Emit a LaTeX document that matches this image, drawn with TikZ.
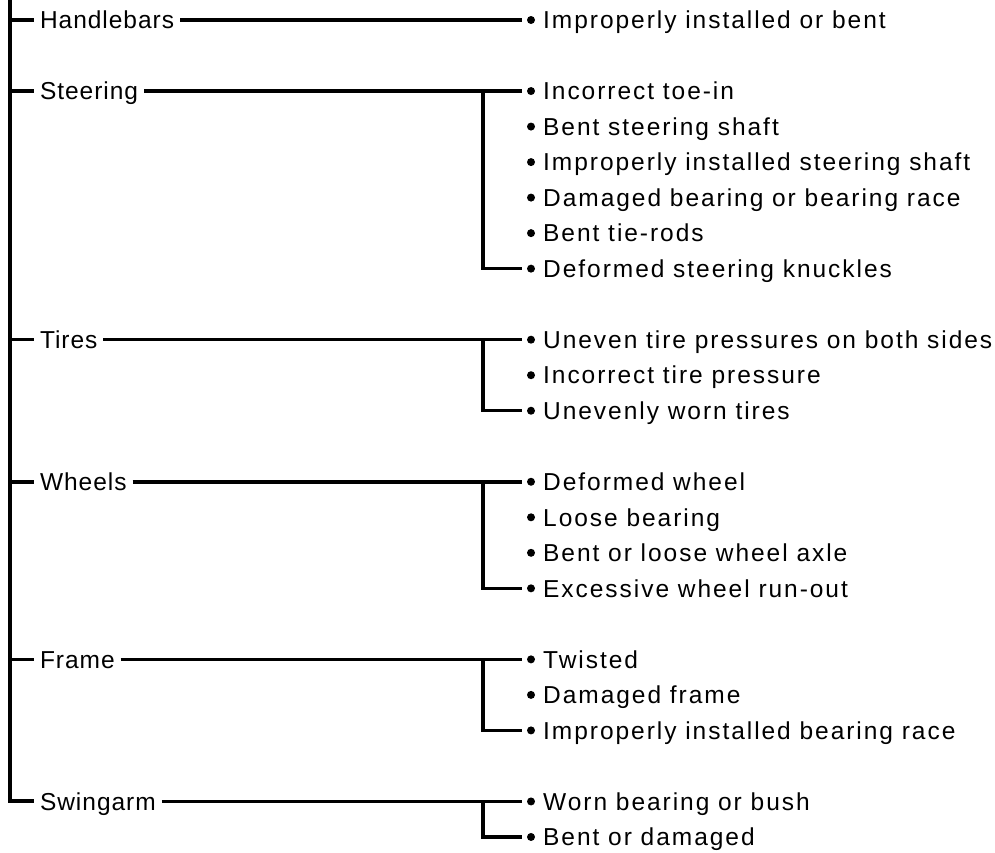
\documentclass[tikz,border=0pt]{standalone}
\usepackage{fontspec}
\setmainfont{Liberation Sans}
\newfontfamily\catfont{Liberation Sans}[LetterSpace=4]
\newfontfamily\itemfont{Liberation Sans}[LetterSpace=8]
\begin{document}
\begin{tikzpicture}[x=1pt,y=-1pt,
  conn/.style={line width=3.5pt},
  trunk/.style={line width=4pt},
  cat/.style={anchor=west, inner sep=0pt, outer xsep=6pt, text height=17.5pt, text depth=0pt, font=\catfont\fontsize{24.5}{28}\selectfont},
  dot/.style={circle, fill, inner sep=0pt, minimum size=8pt, outer sep=5pt},
  item/.style={anchor=west, inner sep=0pt, text height=17.5pt, text depth=0pt, font=\itemfont\fontsize{24.5}{28}\selectfont}]
\useasboundingbox (0,0) rectangle (995,852);
\coordinate (top) at (9.5,0);
\coordinate (bx) at (483,0);
% categories
\node[cat] (lH) at (34,20) {Handlebars};
\node[cat] (lS) at (34,91.04) {Steering};
\node[cat] (lT) at (34,339.68) {Tires};
\node[cat] (lW) at (34,481.76) {Wheels};
\node[cat] (lF) at (34,659.36) {Frame};
\node[cat] (lG) at (34,801.44) {Swingarm};
% items
\node[dot] (bH1) at (531,20) {}; \node[item] (tH1) at (543,20) {Improperly installed or bent};
\node[dot] (bS1) at (531,91.04) {}; \node[item] (tS1) at (543,91.04) {Incorrect toe-in};
\node[dot] (bS2) at (531,126.56) {}; \node[item] (tS2) at (543,126.56) {Bent steering shaft};
\node[dot] (bS3) at (531,162.08) {}; \node[item] (tS3) at (543,162.08) {Improperly installed steering shaft};
\node[dot] (bS4) at (531,197.6) {}; \node[item] (tS4) at (543,197.6) {Damaged bearing or bearing race};
\node[dot] (bS5) at (531,233.12) {}; \node[item] (tS5) at (543,233.12) {Bent tie-rods};
\node[dot] (bS6) at (531,268.64) {}; \node[item] (tS6) at (543,268.64) {Deformed steering knuckles};
\node[dot] (bT1) at (531,339.68) {}; \node[item] (tT1) at (543,339.68) {Uneven tire pressures on both sides};
\node[dot] (bT2) at (531,375.2) {}; \node[item] (tT2) at (543,375.2) {Incorrect tire pressure};
\node[dot] (bT3) at (531,410.72) {}; \node[item] (tT3) at (543,410.72) {Unevenly worn tires};
\node[dot] (bW1) at (531,481.76) {}; \node[item] (tW1) at (543,481.76) {Deformed wheel};
\node[dot] (bW2) at (531,517.28) {}; \node[item] (tW2) at (543,517.28) {Loose bearing};
\node[dot] (bW3) at (531,552.8) {}; \node[item] (tW3) at (543,552.8) {Bent or loose wheel axle};
\node[dot] (bW4) at (531,588.32) {}; \node[item] (tW4) at (543,588.32) {Excessive wheel run-out};
\node[dot] (bF1) at (531,659.36) {}; \node[item] (tF1) at (543,659.36) {Twisted};
\node[dot] (bF2) at (531,694.88) {}; \node[item] (tF2) at (543,694.88) {Damaged frame};
\node[dot] (bF3) at (531,730.4) {}; \node[item] (tF3) at (543,730.4) {Improperly installed bearing race};
\node[dot] (bG1) at (531,801.44) {}; \node[item] (tG1) at (543,801.44) {Worn bearing or bush};
\node[dot] (bG2) at (531,836.96) {}; \node[item] (tG2) at (543,836.96) {Bent or damaged};
% trunk
\draw[trunk] (top) |- (lG.west);
\foreach \n in {lH,lS,lT,lW,lF} \draw[conn] (top |- \n.west) -- (\n.west);
% right connectors
\draw[conn] (lH.east) -- (bH1.west);
\draw[conn] (lS.east) -- (bS1.west);
\draw[conn] (bx |- bS1.west) |- (bS6.west);
\draw[conn] (lT.east) -- (bT1.west);
\draw[conn] (bx |- bT1.west) |- (bT3.west);
\draw[conn] (lW.east) -- (bW1.west);
\draw[conn] (bx |- bW1.west) |- (bW4.west);
\draw[conn] (lF.east) -- (bF1.west);
\draw[conn] (bx |- bF1.west) |- (bF3.west);
\draw[conn] (lG.east) -- (bG1.west);
\draw[conn] (bx |- bG1.west) |- (bG2.west);
\end{tikzpicture}
\end{document}
